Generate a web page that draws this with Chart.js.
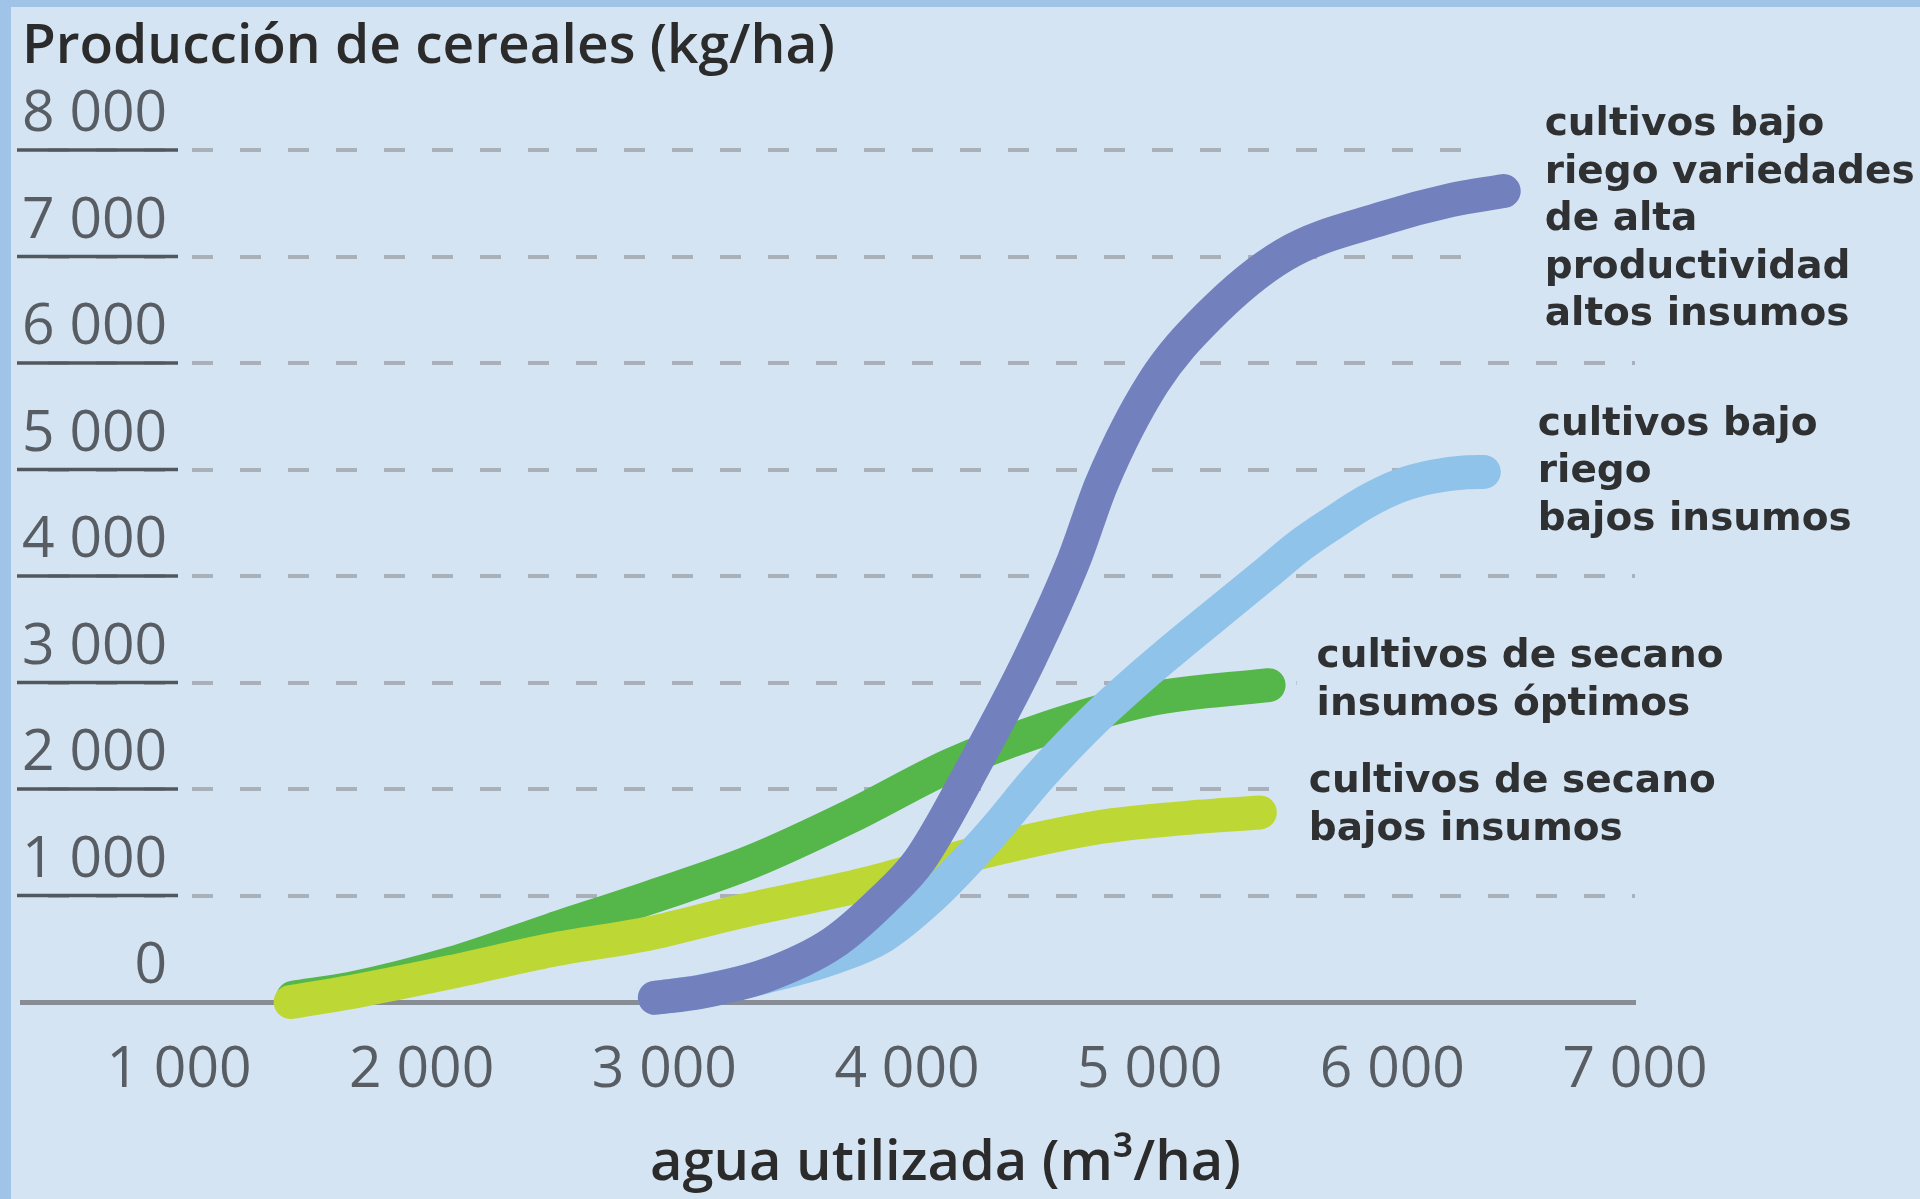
<!DOCTYPE html>
<html lang="es">
<head>
<meta charset="utf-8">
<title>Producción de cereales</title>
<script src="https://cdn.jsdelivr.net/npm/chart.js@4.4.1/dist/chart.umd.min.js"></script>
<style>
  html, body { margin: 0; padding: 0; background: #d5e4f3; }
  #wrap { position: relative; width: 1920px; height: 1199px; overflow: hidden; }
  #chart { position: absolute; left: 0; top: 0; }
  .edge { position: absolute; background: #9fc4e8; }
  #edgeTop { left: 0; top: 0; width: 1920px; height: 7px; }
  #edgeLeft { left: 0; top: 0; width: 11px; height: 1199px; }
</style>
</head>
<body>
<div id="wrap">
  <canvas id="chart" width="1920" height="1199"></canvas>
  <div class="edge" id="edgeTop"></div>
  <div class="edge" id="edgeLeft"></div>
</div>
<script>
const xTicks = [1000, 2000, 3000, 4000, 5000, 6000, 7000];
const xTickLabels = ["1 000", "2 000", "3 000", "4 000", "5 000", "6 000", "7 000"];
const yTicks = [0, 1000, 2000, 3000, 4000, 5000, 6000, 7000, 8000];
const yTickLabels = ["0", "1 000", "2 000", "3 000", "4 000", "5 000", "6 000", "7 000", "8 000"];

// cultivos bajo riego, variedades de alta productividad, altos insumos
const waterHigh = [2961, 3147, 3423, 3695, 3901, 4053, 4288, 4503, 4688, 4803, 5014, 5240, 5553, 5965, 6241, 6459];
const yieldHigh = [40, 94, 253, 554, 958, 1333, 2272, 3211, 4150, 4873, 5812, 6432, 7014, 7361, 7530, 7615];

// cultivos bajo riego, bajos insumos
const waterIrrig = [2961, 3150, 3420, 3700, 3901, 4107, 4247, 4383, 4519, 4659, 4795, 4931, 5071, 5260, 5483, 5619, 5755, 5893, 6031, 6167, 6307, 6377];
const yieldIrrig = [40, 100, 240, 420, 620, 1000, 1324, 1671, 2047, 2394, 2704, 2986, 3260, 3615, 4030, 4285, 4498, 4698, 4848, 4933, 4974, 4977];

// cultivos de secano, bajos insumos
const waterDryLow = [1460, 1710, 2122, 2534, 2946, 3283, 3835, 4313, 4795, 5141, 5454];
const yieldDryLow = [0, 94, 282, 488, 648, 834, 1110, 1410, 1643, 1727, 1780];

// cultivos de secano, insumos óptimos
const waterDryOpt = [1470, 1710, 2122, 2534, 2946, 3358, 3770, 4181, 4519, 5005, 5490];
const yieldDryOpt = [40, 125, 360, 676, 986, 1316, 1746, 2225, 2526, 2845, 2975];

const labelHigh = ["cultivos bajo", "riego variedades", "de alta", "productividad", "altos insumos"];
const labelIrrig = ["cultivos bajo", "riego", "bajos insumos"];
const labelDryOpt = ["cultivos de secano", "insumos óptimos"];
const labelDryLow = ["cultivos de secano", "bajos insumos"];

const BG = "#d5e4f3";

function points(xs, ys) {
  return xs.map((x, i) => ({ x: x, y: ys[i] }));
}

function curve(label, xs, ys, color) {
  return {
    label: label,
    data: points(xs, ys),
    borderColor: color,
    backgroundColor: color,
    borderWidth: 34,
    borderCapStyle: "round",
    borderJoinStyle: "round",
    pointRadius: 0,
    pointHoverRadius: 0,
    cubicInterpolationMode: "monotone",
    fill: false,
    clip: false,
  };
}

function lastPoint(chart, index) {
  const pts = chart.getDatasetMeta(index).data;
  return pts[pts.length - 1];
}

// trazo oscuro bajo cada etiqueta del eje vertical
const tickUnderline = {
  id: "tickUnderline",
  beforeDatasetsDraw(chart, args, opts) {
    const scale = chart.scales.y;
    const ctx = chart.ctx;
    const left = chart.chartArea.left;
    ctx.save();
    ctx.strokeStyle = opts.color;
    ctx.lineWidth = opts.width;
    scale.ticks.forEach((t) => {
      if (t.value === 0) return;
      const py = scale.getPixelForValue(t.value);
      ctx.beginPath();
      ctx.moveTo(left - 5, py);
      ctx.lineTo(left + 156, py);
      ctx.stroke();
    });
    ctx.restore();
  },
};

// textos al final de cada curva
const seriesLabels = {
  id: "seriesLabels",
  beforeDatasetsDraw(chart, args, opts) {
    const ctx = chart.ctx;
    ctx.save();
    ctx.font = opts.font;
    ctx.fillStyle = opts.background;
    opts.items.forEach((item) => {
      const end = lastPoint(chart, item.dataset);
      const x = end.x + item.dx;
      const y = end.y + item.dy;
      const w = Math.max(...item.lines.map((l) => ctx.measureText(l).width));
      ctx.fillRect(x - item.padLeft, y - 34, w + item.padLeft + 10,
        (item.lines.length - 1) * opts.lineHeight + 46);
    });
    ctx.restore();
  },
  afterDatasetsDraw(chart, args, opts) {
    const ctx = chart.ctx;
    ctx.save();
    ctx.font = opts.font;
    ctx.fillStyle = opts.color;
    ctx.textAlign = "left";
    ctx.textBaseline = "alphabetic";
    opts.items.forEach((item) => {
      const end = lastPoint(chart, item.dataset);
      item.lines.forEach((line, i) => {
        ctx.fillText(line, end.x + item.dx, end.y + item.dy + i * opts.lineHeight);
      });
    });
    ctx.restore();
  },
};

// título del eje horizontal
const axisCaption = {
  id: "axisCaption",
  afterDraw(chart, args, opts) {
    const ctx = chart.ctx;
    const a = chart.chartArea;
    ctx.save();
    ctx.font = opts.font;
    ctx.fillStyle = opts.color;
    ctx.textAlign = "center";
    ctx.textBaseline = "alphabetic";
    ctx.fillText(opts.text, (a.left + a.right) / 2 + opts.shift, a.bottom + opts.baseline);
    ctx.restore();
  },
};

const tickFont = { family: "'Open Sans'", size: 57, lineHeight: 1.2 };

new Chart(document.getElementById("chart"), {
  type: "line",
  data: {
    datasets: [
      curve("cultivos bajo riego variedades de alta productividad altos insumos", waterHigh, yieldHigh, "#7280be"),
      curve("cultivos bajo riego bajos insumos", waterIrrig, yieldIrrig, "#8fc3e9"),
      curve("cultivos de secano bajos insumos", waterDryLow, yieldDryLow, "#bdd734"),
      curve("cultivos de secano insumos óptimos", waterDryOpt, yieldDryOpt, "#55b74a"),
    ],
  },
  options: {
    responsive: false,
    animation: false,
    events: [],
    layout: { padding: { left: 22, right: 285, top: 0, bottom: 58.6 } },
    scales: {
      x: {
        type: "linear",
        min: 353,
        max: 7000,
        afterBuildTicks: (s) => { s.ticks = xTicks.map((v) => ({ value: v })); },
        ticks: {
          autoSkip: false,
          maxRotation: 0,
          padding: 35,
          color: "#585d64",
          font: tickFont,
          callback: (v, i) => xTickLabels[i],
        },
        grid: { display: true, drawTicks: false, color: "rgba(0,0,0,0)" },
        border: { display: true, color: "#878c95", width: 5 },
      },
      y: {
        type: "linear",
        min: 0,
        max: 8000,
        afterBuildTicks: (s) => { s.ticks = yTicks.map((v) => ({ value: v })); },
        ticks: {
          mirror: true,
          crossAlign: "far",
          padding: 0,
          labelOffset: -35,
          color: "#585d64",
          font: tickFont,
          callback: (v, i) => yTickLabels[i],
        },
        grid: {
          drawTicks: false,
          lineWidth: 4,
          color: (c) => (c.tick && c.tick.value === 0 ? "rgba(0,0,0,0)" : "#a9b0ba"),
        },
        border: { display: false, dash: [21, 27], dashOffset: 22 },
      },
    },
    plugins: {
      legend: { display: false },
      tooltip: { enabled: false },
      title: {
        display: true,
        text: "Producción de cereales (kg/ha)",
        align: "start",
        color: "#2b2b2b",
        font: { family: "'Open Sans'", size: 55, weight: "600", lineHeight: 1.2 },
        padding: { top: 14, bottom: 70 },
      },
      tickUnderline: { color: "#52575e", width: 3.5 },
      seriesLabels: {
        font: "bold 39px 'DejaVu Sans'",
        color: "#2f3032",
        background: BG,
        lineHeight: 47.5,
        items: [
          { dataset: 0, lines: labelHigh, dx: 41, dy: -56, padLeft: 75 },
          { dataset: 1, lines: labelIrrig, dx: 54, dy: -37, padLeft: 40 },
          { dataset: 3, lines: labelDryOpt, dx: 48, dy: -18, padLeft: 20 },
          { dataset: 2, lines: labelDryLow, dx: 49, dy: -20, padLeft: 25 },
        ],
      },
      axisCaption: {
        text: "agua utilizada (m³/ha)",
        font: "600 56px 'Open Sans'",
        color: "#2b2b2b",
        shift: 117,
        baseline: 178,
      },
    },
  },
  plugins: [tickUnderline, seriesLabels, axisCaption],
});
</script>
</body>
</html>
